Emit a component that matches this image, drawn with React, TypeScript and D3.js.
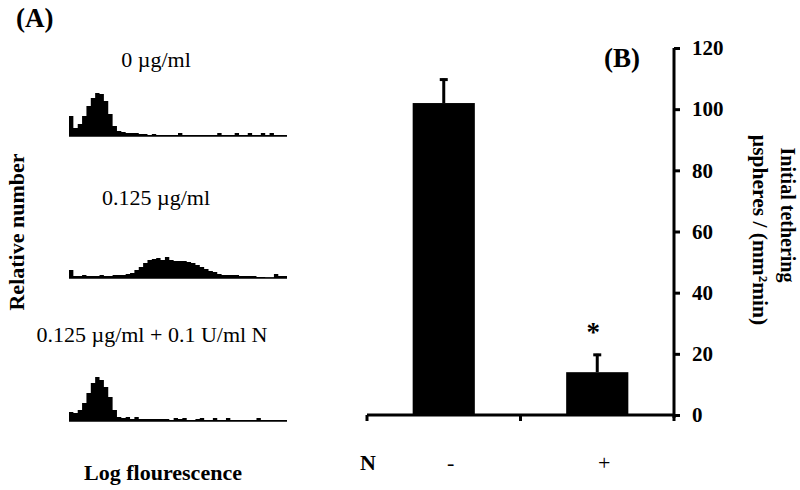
import React, { useEffect, useRef } from "react";
import * as d3 from "d3";

// Panel A: flow cytometry histograms (relative counts per log-fluorescence bin)
const histLabels = ["0 µg/ml", "0.125 µg/ml", "0.125 µg/ml + 0.1 U/ml N"];
const histControl = [20, 8, 12, 20, 30, 38, 43, 42, 35, 22, 10, 5, 4, 3, 3, 3, 2, 2, 1, 2, 1, 1, 1, 1, 1, 3, 1, 1, 1, 1, 1, 1, 1, 1, 3, 1, 1, 1, 3, 1, 1, 3, 1, 1, 3, 1, 3, 1, 1, 1];
const histLow = [8, 2, 2, 3, 2, 2, 2, 3, 2, 2, 3, 3, 3, 4, 5, 8, 11, 15, 18, 19, 20, 18, 21, 18, 17, 17, 17, 16, 15, 13, 11, 9, 7, 6, 4, 3, 3, 3, 3, 2, 2, 2, 2, 1, 1, 0.5, 0.5, 4, 2, 2];
const histLowN = [9, 8, 11, 18, 28, 38, 44, 41, 34, 24, 11, 4, 3, 4, 2, 4, 2, 2, 2, 2, 2, 2, 2, 1, 3, 2, 3, 1, 1, 2, 3, 1, 1, 3, 1, 1, 3, 1, 1, 1, 1, 1, 1, 3, 1, 1, 1, 1, 1, 1];

// Panel B: initial tethering
const categories = ["-", "+"];
const tethering = [102, 14];
const tetheringErr = [8, 6];
const yTicks = [0, 20, 40, 60, 80, 100, 120];

const serif = "'Liberation Serif', 'Times New Roman', serif";

const App = () => {
  const svgRef = useRef<SVGSVGElement>(null);

  useEffect(() => {
    const svg = d3.select(svgRef.current);
    svg.selectAll("*").remove();
    svg.attr("width", 800).attr("height", 490).style("font-family", serif);

    // ---------- Panel A ----------
    svg.append("text").attr("x", 16).attr("y", 27)
      .attr("font-size", 27).attr("font-weight", "bold").text("(A)");

    const hx = d3.scaleLinear().domain([0, 50]).range([69, 287]);
    const panels = [
      { data: histControl, base: 136, labelY: 67, labelX: 156 },
      { data: histLow, base: 278, labelY: 205, labelX: 156 },
      { data: histLowN, base: 421, labelY: 342, labelX: 152 },
    ];

    panels.forEach((p, k) => {
      const hy = d3.scaleLinear().domain([0, 45]).range([p.base, p.base - 45]);
      const pts = p.data.map((v, i) => [i, v] as [number, number]);
      pts.push([p.data.length, p.data[p.data.length - 1]]);
      const area = d3.area<[number, number]>()
        .x((d) => hx(d[0]))
        .y0(hy(0))
        .y1((d) => hy(d[1]))
        .curve(d3.curveStepAfter);
      svg.append("path").attr("d", area(pts)).attr("fill", "#000");
      svg.append("line")
        .attr("x1", hx(0)).attr("x2", hx(50))
        .attr("y1", hy(0)).attr("y2", hy(0))
        .attr("stroke", "#000").attr("stroke-width", 1.5);
      svg.append("text").attr("x", p.labelX).attr("y", p.labelY)
        .attr("text-anchor", "middle").attr("font-size", 22).text(histLabels[k]);
    });

    svg.append("text")
      .attr("transform", "translate(24,232) rotate(-90)")
      .attr("text-anchor", "middle").attr("font-size", 22).attr("font-weight", "bold")
      .text("Relative number");
    svg.append("text").attr("x", 163).attr("y", 480)
      .attr("text-anchor", "middle").attr("font-size", 22).attr("font-weight", "bold")
      .text("Log flourescence");

    // ---------- Panel B ----------
    const x = d3.scaleBand().domain(categories).range([367, 674]).padding(0);
    const y = d3.scaleLinear().domain([0, 120]).range([415, 48]);
    const barW = x.bandwidth() * 0.405;

    const g = svg.append("g");
    g.selectAll(".bar")
      .data(tethering)
      .enter()
      .append("rect")
      .attr("x", (d, i) => x(categories[i])! + x.bandwidth() / 2 - barW / 2)
      .attr("y", (d) => y(d))
      .attr("width", barW)
      .attr("height", (d) => y(0) - y(d))
      .attr("fill", "#000");

    // error bars (upper half only)
    tethering.forEach((d, i) => {
      const cx = x(categories[i])! + x.bandwidth() / 2;
      g.append("line")
        .attr("x1", cx).attr("x2", cx)
        .attr("y1", y(d)).attr("y2", y(d + tetheringErr[i]))
        .attr("stroke", "#000").attr("stroke-width", 3);
      g.append("line")
        .attr("x1", cx - 4).attr("x2", cx + 4)
        .attr("y1", y(d + tetheringErr[i]) + 1).attr("y2", y(d + tetheringErr[i]) + 1)
        .attr("stroke", "#000").attr("stroke-width", 3);
    });

    // significance marker
    const c2 = x("+")! + x.bandwidth() / 2;
    g.append("text").attr("x", c2 - 4).attr("y", y(tethering[1] + tetheringErr[1]) - 13)
      .attr("text-anchor", "middle").attr("font-size", 27).attr("font-weight", "bold").text("*");

    // x axis
    g.append("line").attr("x1", 367).attr("x2", 674).attr("y1", y(0)).attr("y2", y(0))
      .attr("stroke", "#000").attr("stroke-width", 3);
    [367, x("+")!, 674].forEach((tx) => {
      g.append("line").attr("x1", tx).attr("x2", tx).attr("y1", y(0)).attr("y2", y(0) + 6)
        .attr("stroke", "#000").attr("stroke-width", 3);
    });

    // right y axis
    const yAxis = d3.axisRight(y).tickValues(yTicks).tickSize(6).tickPadding(12);
    const ax = g.append("g").attr("transform", "translate(674,0)").call(yAxis);
    ax.select(".domain").attr("stroke-width", 3).attr("d", `M0,${y(120)}V${y(0) + 3}`);
    ax.selectAll(".tick line").attr("stroke-width", 3);
    ax.selectAll(".tick text")
      .attr("font-family", serif).attr("font-size", 21).attr("font-weight", "bold")
      .attr("fill", "#000");

    svg.append("text").attr("x", 604).attr("y", 67)
      .attr("font-size", 27).attr("font-weight", "bold").text("(B)");

    // axis title (two lines, rotated)
    svg.append("text")
      .attr("transform", "translate(781,215) rotate(90)")
      .attr("text-anchor", "middle").attr("font-size", 20).attr("font-weight", "bold")
      .text("Initial tethering");
    svg.append("text")
      .attr("transform", "translate(753,230) rotate(90)")
      .attr("text-anchor", "middle").attr("font-size", 21.5).attr("font-weight", "bold")
      .text("µspheres / (mm²min)");

    // category labels
    svg.append("text").attr("x", 360).attr("y", 470)
      .attr("font-size", 22).attr("font-weight", "bold").text("N");
    categories.forEach((c) => {
      svg.append("text").attr("x", x(c)! + x.bandwidth() / 2 + 7).attr("y", 470)
        .attr("text-anchor", "middle").attr("font-size", 22).text(c);
    });
  }, []);

  return (
    <svg ref={svgRef} style={{ position: "absolute", left: 0, top: 0, background: "#fff" }}></svg>
  );
};

export default App;
